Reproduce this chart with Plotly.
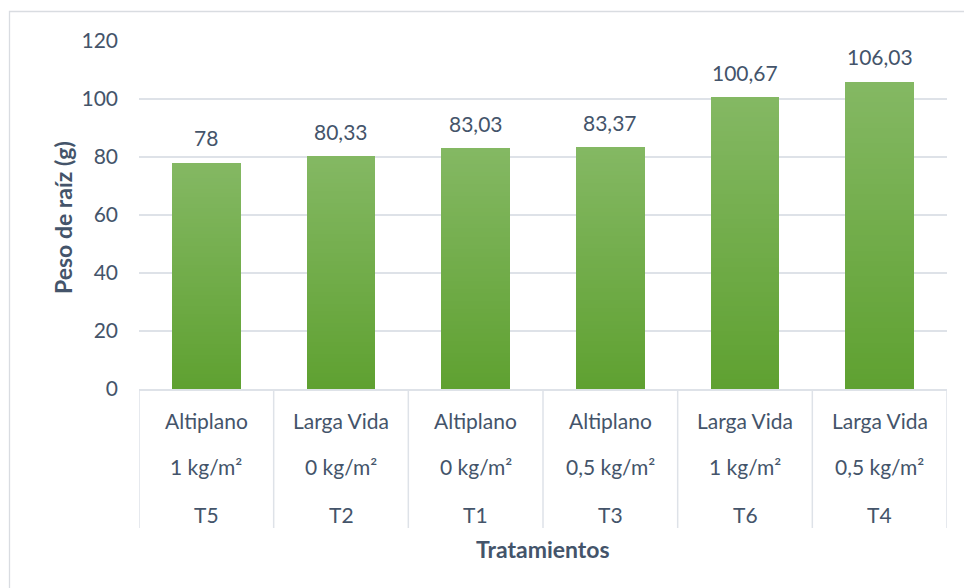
import plotly.graph_objects as go

# Treatment data (sorted by root weight)
variedad = ["Altiplano", "Larga Vida", "Altiplano", "Altiplano", "Larga Vida", "Larga Vida"]
dosis = ["1 kg/m²", "0 kg/m²", "0 kg/m²", "0,5 kg/m²", "1 kg/m²", "0,5 kg/m²"]
tratamiento = ["T5", "T2", "T1", "T3", "T6", "T4"]
peso_raiz = [78, 80.33, 83.03, 83.37, 100.67, 106.03]
y_ticks = [0, 20, 40, 60, 80, 100, 120]

TEXT = "#44546A"
GRID = "#DEE2E8"
FONT = "Lato"
FS = 21
TOP_RGB = (0x84, 0xB8, 0x63)
BOT_RGB = (0x5F, 0xA1, 0x31)

W, H = 964, 588
L, R, T, B = 139, 17, 41, 199
plot_w, plot_h = W - L - R, H - T - B

x = list(range(len(peso_raiz)))
bar_w = 0.512

fig = go.Figure()

# Vertical gradient per bar: stacked overlay layers, each shorter and darker
n_layers = 60
for k in range(n_layers):
    f = k / (n_layers - 1)
    c = tuple(round(TOP_RGB[j] + (BOT_RGB[j] - TOP_RGB[j]) * f) for j in range(3))
    frac = 1 - k / n_layers
    fig.add_trace(go.Bar(
        x=x, y=[v * frac for v in peso_raiz], width=bar_w,
        marker=dict(color="rgb(%d,%d,%d)" % c, line=dict(width=0)),
        hoverinfo="skip", showlegend=False,
    ))

# Value labels above bars
for i, v in enumerate(peso_raiz):
    fig.add_annotation(x=i, y=v, xref="x", yref="y", text=f"{v:g}".replace(".", ","),
                       showarrow=False, yanchor="middle", yshift=25,
                       font=dict(family=FONT, size=FS, color=TEXT))

# Multi-level category labels
rows = [(variedad, 421), (dosis, 466), (tratamiento, 514)]
for labels, ypix in rows:
    for i, lab in enumerate(labels):
        fig.add_annotation(x=i, y=(H - B - ypix) / plot_h, xref="x", yref="paper",
                           text=lab, showarrow=False, yanchor="middle",
                           font=dict(family=FONT, size=FS, color=TEXT))

# Category separators below the axis
sep_bottom = -(528 - (H - B)) / plot_h
for i in range(len(peso_raiz) + 1):
    fig.add_shape(type="line", xref="x", yref="paper", x0=i - 0.5, x1=i - 0.5,
                  y0=0, y1=sep_bottom, line=dict(color=GRID, width=1.5))

# Outer chart border
fig.add_shape(type="rect", xref="paper", yref="paper",
              x0=(9.5 - L) / plot_w, x1=(W + 5 - L) / plot_w,
              y0=-(H + 5 - (H - B)) / plot_h, y1=1 + (T - 11.5) / plot_h,
              line=dict(color="#D9DCE1", width=1.3), fillcolor="rgba(0,0,0,0)", layer="below")

# Axis titles
fig.add_annotation(x=0.5, y=-(549 - (H - B)) / plot_h, xref="paper", yref="paper",
                   text="<b>Tratamientos</b>", showarrow=False, yanchor="middle",
                   font=dict(family=FONT, size=23, color=TEXT))
fig.add_annotation(x=(63 - L) / plot_w, y=(H - B - 218) / plot_h, xref="paper", yref="paper",
                   text="<b>Peso de raíz (g)</b>", showarrow=False, textangle=-90,
                   xanchor="center", yanchor="middle",
                   font=dict(family=FONT, size=23, color=TEXT))

fig.update_layout(
    width=W, height=H,
    margin=dict(l=L, r=R, t=T, b=B),
    paper_bgcolor="white", plot_bgcolor="white",
    barmode="overlay", bargap=0,
    showlegend=False,
    xaxis=dict(range=[-0.5, len(peso_raiz) - 0.5], showticklabels=False, ticks="",
               showgrid=False, zeroline=False, showline=True, linecolor=GRID, linewidth=1.5),
    yaxis=dict(range=[0, 120], tickvals=y_ticks, showgrid=True, gridcolor=GRID, gridwidth=1.5,
               zeroline=False, showline=False, ticks="", ticklabelstandoff=20,
               tickfont=dict(family=FONT, size=FS, color=TEXT)),
)

fig.write_html("out.html")
